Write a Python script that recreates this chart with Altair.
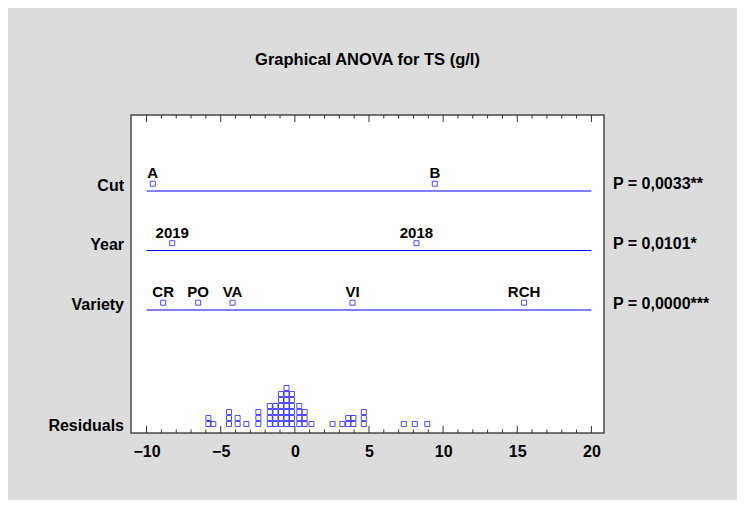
import altair as alt
import pandas as pd

# ---------------- data ----------------
factor_names = ["Cut", "Year", "Variety"]
p_labels = ["P = 0,0033**", "P = 0,0101*", "P = 0,0000***"]

cut_levels = ["A", "B"]
cut_effects = [-9.58, 9.44]
year_levels = ["2019", "2018"]
year_effects = [-8.27, 8.20]
variety_levels = ["CR", "PO", "VA", "VI", "RCH"]
variety_effects = [-8.88, -6.52, -4.20, 3.89, 15.46]

# residual dot plot: column positions and the number of stacked squares
resid_values = [-5.83, -5.50, -4.44, -3.86, -3.27, -2.46, -1.69, -1.31, -0.93,
                -0.56, -0.20, 0.30, 0.66, 1.12, 2.55, 3.20, 3.60, 3.95, 4.65,
                7.35, 8.09, 8.93]
resid_counts = [2, 1, 3, 2, 1, 3, 4, 4, 6, 7, 6, 4, 3, 1, 1, 1, 2, 2, 3, 1, 1, 1]

major_ticks = [-10, -5, 0, 5, 10, 15, 20]
minor_ticks = [t for t in range(-10, 21) if t not in major_ticks]

# ---------------- layout ----------------
W, H = 473, 318
X_DOMAIN = [-11.05, 20.85]
LINE_RANGE = [-10, 20]
ROW = {"Cut": 4, "Year": 3, "Variety": 2}
Y_DOMAIN = [-0.067, 5.277]
PX = H / (Y_DOMAIN[1] - Y_DOMAIN[0])  # pixels per row unit
FONT = "Liberation Sans"
BLUE = "#0000ff"
TICK_COLOR = "#333333"

# ---------------- tables ----------------
factors = pd.DataFrame({
    "name": factor_names,
    "p": p_labels,
    "row": [ROW[n] for n in factor_names],
    "lo": LINE_RANGE[0],
    "hi": LINE_RANGE[1],
})

levels = pd.DataFrame({
    "level": cut_levels + year_levels + variety_levels,
    "effect": cut_effects + year_effects + variety_effects,
    "row": [ROW["Cut"]] * 2 + [ROW["Year"]] * 2 + [ROW["Variety"]] * 5,
})

res_rows = []
for v, c in zip(resid_values, resid_counts):
    for k in range(c):
        res_rows.append({"r": v, "k": k})
resid = pd.DataFrame(res_rows)
resid["yy"] = Y_DOMAIN[0] + (9 + 6 * resid["k"]) / PX

major_df = pd.DataFrame({"t": major_ticks})
minor_df = pd.DataFrame({"t": minor_ticks})

xscale = alt.Scale(domain=X_DOMAIN, nice=False, zero=False)
yscale = alt.Scale(domain=Y_DOMAIN, nice=False, zero=False)
xaxis = alt.Axis(values=major_ticks, ticks=False, domain=False, grid=False,
                 labelFont=FONT, labelFontSize=16, labelFontWeight="bold",
                 labelColor="black", labelPadding=10, title=None)


def X(field):
    return alt.X(field, type="quantitative", scale=xscale, axis=xaxis)


def Y(field):
    return alt.Y(field, type="quantitative", scale=yscale, axis=None)


base_f = alt.Chart(factors)

lines = base_f.mark_rule(color=BLUE, strokeWidth=1.2).encode(
    x=X("lo"), x2="hi", y=Y("row"))

left_labels = base_f.mark_text(
    align="right", baseline="alphabetic", dx=-7, font=FONT, fontSize=16,
    fontWeight="bold", color="black").encode(
    x=alt.value(0), y=Y("row"), text="name:N")

p_text = base_f.mark_text(
    align="left", baseline="alphabetic", dy=-1.5, font=FONT, fontSize=16,
    fontWeight="bold", color="black").encode(
    x=alt.value(W + 9), y=Y("row"), text="p:N")

res_label = alt.Chart(pd.DataFrame({"name": ["Residuals"], "row": [Y_DOMAIN[0]]})).mark_text(
    align="right", baseline="alphabetic", dx=-7, dy=-2, font=FONT, fontSize=16,
    fontWeight="bold", color="black").encode(
    x=alt.value(0), y=Y("row"), text="name:N")

base_l = alt.Chart(levels)
level_pts = base_l.mark_square(
    filled=False, color=BLUE, size=25, strokeWidth=1, yOffset=-7.3).encode(
    x=X("effect"), y=Y("row"))
level_txt = base_l.mark_text(
    baseline="alphabetic", align="center", dy=-12.7, font=FONT, fontSize=15,
    fontWeight="bold", color="black").encode(
    x=X("effect"), y=Y("row"), text="level:N")

resid_pts = alt.Chart(resid).mark_square(
    filled=False, color=BLUE, size=25, strokeWidth=1).encode(
    x=X("r"), y=Y("yy"))

# inward-pointing ticks on the bottom and top frame edges
tick_bottom = alt.Chart(major_df).mark_rule(color=TICK_COLOR, strokeWidth=1).encode(
    x=X("t"), y=alt.value(H), y2=alt.value(H - 7))
tick_bottom_minor = alt.Chart(minor_df).mark_rule(color=TICK_COLOR, strokeWidth=1).encode(
    x=X("t"), y=alt.value(H), y2=alt.value(H - 3.5))
tick_top = alt.Chart(major_df).mark_rule(color=TICK_COLOR, strokeWidth=1).encode(
    x=X("t"), y=alt.value(0), y2=alt.value(7))
tick_top_minor = alt.Chart(minor_df).mark_rule(color=TICK_COLOR, strokeWidth=1).encode(
    x=X("t"), y=alt.value(0), y2=alt.value(3.5))

chart = alt.layer(
    tick_bottom, tick_bottom_minor, tick_top, tick_top_minor,
    lines, level_pts, level_txt, resid_pts,
    left_labels, p_text, res_label,
).properties(
    width=W, height=H,
    autosize=alt.AutoSizeParams(type="none"),
    padding={"left": 123, "top": 107, "right": 133, "bottom": 67},
    background="#dcdcdc",
    title=alt.TitleParams(
        "Graphical ANOVA for TS (g/l)", font=FONT, fontSize=16.5,
        fontWeight="bold", color="black", anchor="middle",
        baseline="alphabetic", offset=33),
).configure_view(stroke="#4a4a4a", strokeWidth=1.5, fill="white")

chart.save("out.html", embed_options={"renderer": "svg", "actions": False})
